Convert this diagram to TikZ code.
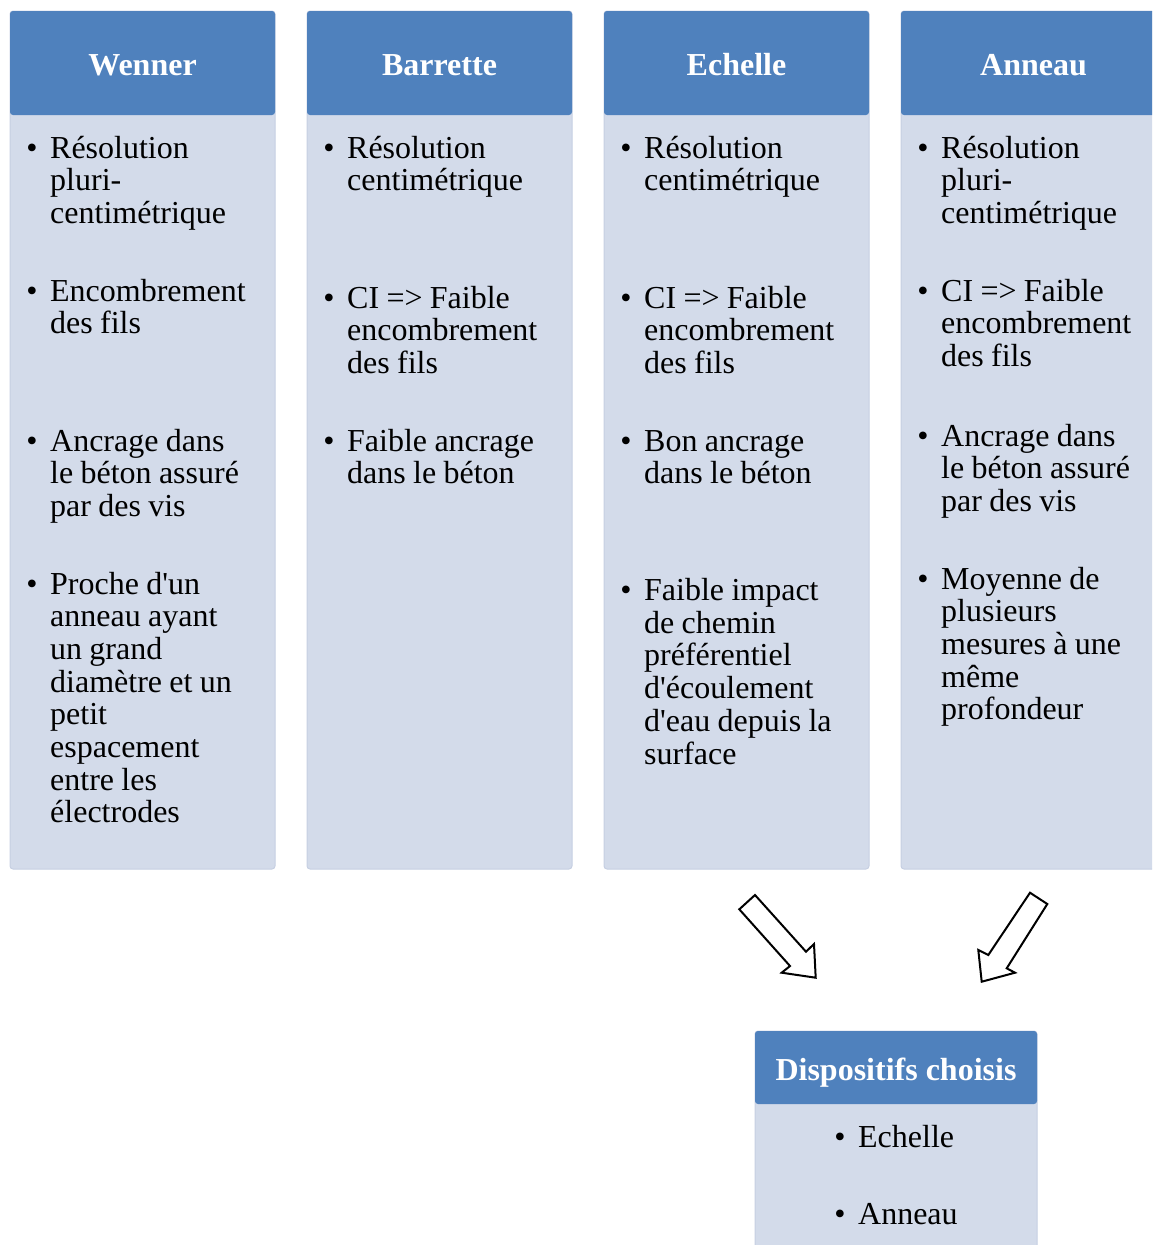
\documentclass[tikz,border=0pt]{standalone}
\usepackage{fontspec}
\setmainfont{Liberation Serif}[Ligatures=NoCommon]
\usepackage{tikz}
\usetikzlibrary{positioning}
\definecolor{bleuentete}{RGB}{79,129,189}
\definecolor{bleucorps}{RGB}{211,219,234}
\definecolor{bordcorps}{RGB}{198,207,226}
\newcommand{\puce}{\spaceskip=7.3pt\relax\strut\llap{\textbullet\hspace{12.7pt}}}
\newcommand{\apos}{\textquotesingle}

\begin{document}
\begin{tikzpicture}[
  x=1pt, y=-1pt,
  entete/.style={fill=bleuentete, text=white, rounded corners=3pt, inner sep=0pt,
    font=\bfseries\fontsize{32}{34}\selectfont,
    minimum width=265pt, minimum height=104pt, text height=25pt, text depth=0pt},
  corps/.style={fill=bleucorps, draw=bordcorps, line width=1pt, rounded corners=3pt,
    inner sep=0pt, minimum width=265pt, minimum height=858pt},
  texte/.style={anchor=north west, align=left, inner sep=0pt, text width=225pt,
    font=\fontsize{32}{32.7}\selectfont},
  fleche/.style={draw=black, fill=white, line width=2pt, line join=miter}
]
  \useasboundingbox (0,0) rectangle (1152,1245);
  \clip (0,0) rectangle (1152,1245);

  % colonnes
  \node[corps] (wennerC) at (142.5,440) {};
  \node[corps] (barretteC) at (439.5,440) {};
  \node[corps] (echelleC) at (736.5,440) {};
  \node[corps] (anneauC) at (1033.5,440) {};

  \node[entete] (wenner) at (142.5,63) {Wenner};
  \node[entete] (barrette) at (439.5,63) {Barrette};
  \node[entete] (echelle) at (736.5,63) {Echelle};
  \node[entete] (anneau) at (1033.5,63) {Anneau};

  % Wenner
  \node[texte] (w1) at (50,135) {\puce Résolution\\pluri-\\centimétrique};
  \node[texte] (w2) at (50,278) {\puce Encombrement\\des fils};
  \node[texte] (w3) at (50,428) {\puce Ancrage dans\\le béton assuré\\par des vis};
  \node[texte] (w4) at (50,571) {\puce Proche d\apos un\\anneau ayant\\un grand\\diamètre et un\\petit\\espacement\\entre les\\électrodes};

  % Barrette
  \node[texte] (b1) at (347,135) {\puce Résolution\\centimétrique};
  \node[texte] (b2) at (347,285) {\puce CI => Faible\\encombrement\\des fils};
  \node[texte] (b3) at (347,428) {\puce Faible ancrage\\dans le béton};

  % Echelle
  \node[texte] (e1) at (644,135) {\puce Résolution\\centimétrique};
  \node[texte] (e2) at (644,285) {\puce CI => Faible\\encombrement\\des fils};
  \node[texte] (e3) at (644,428) {\puce Bon ancrage\\dans le béton};
  \node[texte] (e4) at (644,577.5) {\puce Faible impact\\de chemin\\préférentiel\\d\apos écoulement\\d\apos eau depuis la\\surface};

  % Anneau
  \node[texte] (a1) at (941,135) {\puce Résolution\\pluri-\\centimétrique};
  \node[texte] (a2) at (941,278) {\puce CI => Faible\\encombrement\\des fils};
  \node[texte] (a3) at (941,423) {\puce Ancrage dans\\le béton assuré\\par des vis};
  \node[texte] (a4) at (941,566) {\puce Moyenne de\\plusieurs\\mesures à une\\même\\profondeur};

  % fleches vers le choix
  \draw[fleche] (755,895) -- (806,951.7) -- (814,944) -- (815.7,977.7)
    -- (781.7,972.7) -- (790,966) -- (739.3,909.3) -- cycle;
  \draw[fleche] (1030,892.7) -- (1047.3,904) -- (1006.7,968.3) -- (1015,972.7)
    -- (981.7,981.7) -- (978.3,950) -- (988.3,955) -- cycle;

  % dispositifs choisis
  \node[corps, minimum width=282pt, minimum height=259pt] (choixC) at (896,1160.5) {};
  \node[entete, minimum width=282pt, minimum height=73pt] (choix) at (896,1067.5) {Dispositifs choisis};
  \node[texte] (d1) at (858,1124) {\puce Echelle};
  \node[texte] (d2) at (858,1201) {\puce Anneau};
\end{tikzpicture}
\end{document}
